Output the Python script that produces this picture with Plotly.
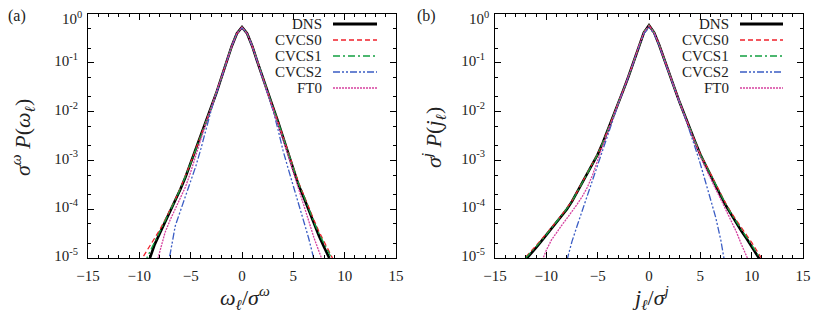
import plotly.graph_objects as go

# ---------------- data (log10 of sigma*P) ----------------
x_a = [-10.0, -9.5, -9.0, -8.5, -8.0, -7.5, -7.0, -6.5, -6.0, -5.5, -5.0, -4.5, -4.0, -3.5,
       -3.0, -2.5, -2.0, -1.5, -1.0, -0.5, 0.0, 0.5, 1.0, 1.5, 2.0, 2.5, 3.0, 3.5, 4.0, 4.5,
       5.0, 5.5, 6.0, 6.5, 7.0, 7.5, 8.0, 8.5, 9.0, 9.5]

a_dns = [None, None, -5.02, -4.72, -4.49, -4.27, -4.05, -3.82, -3.59, -3.34, -3.06, -2.78, -2.47, -2.20,
         -1.92, -1.62, -1.30, -0.98, -0.66, -0.40, -0.27, -0.40, -0.66, -0.98, -1.30, -1.60, -1.90, -2.20, -2.53, -2.87,
         -3.20, -3.50, -3.75, -4.03, -4.30, -4.55, -4.78, -5.00, None, None]
a_cvcs0 = [-5.10, -4.93, -4.75, -4.60, -4.42, -4.22, -4.02, -3.80, -3.57, -3.32, -3.05, -2.77, -2.47, -2.20,
           -1.92, -1.62, -1.30, -0.98, -0.66, -0.40, -0.27, -0.40, -0.66, -0.98, -1.30, -1.60, -1.90, -2.20, -2.52, -2.85,
           -3.17, -3.45, -3.70, -3.97, -4.22, -4.46, -4.68, -4.88, -5.08, None]
a_cvcs1 = [None, -5.10, -4.90, -4.67, -4.46, -4.25, -4.04, -3.81, -3.58, -3.33, -3.06, -2.78, -2.47, -2.20,
           -1.92, -1.62, -1.30, -0.98, -0.66, -0.40, -0.27, -0.40, -0.66, -0.98, -1.30, -1.60, -1.90, -2.20, -2.52, -2.86,
           -3.18, -3.47, -3.72, -4.00, -4.26, -4.50, -4.72, -4.93, -5.12, None]
a_cvcs2 = [None, None, None, None, None, -5.30, -4.92, -4.34, -4.04, -3.74, -3.44, -3.12, -2.76, -2.36,
           -1.97, -1.63, -1.30, -0.98, -0.66, -0.40, -0.28, -0.40, -0.66, -0.98, -1.30, -1.61, -1.96, -2.36, -2.80, -3.17,
           -3.51, -3.86, -4.24, -4.60, -5.02, None, None, None, None, None]
a_ft0 = [None, None, None, -5.25, -4.85, -4.48, -4.22, -4.00, -3.78, -3.54, -3.24, -2.90, -2.52, -2.22,
         -1.92, -1.62, -1.30, -0.98, -0.66, -0.40, -0.27, -0.40, -0.66, -0.98, -1.30, -1.60, -1.90, -2.22, -2.55, -2.90,
         -3.24, -3.56, -3.89, -4.24, -4.58, -4.89, -5.15, None, None, None]

x_b = [-12.5, -12.0, -11.5, -11.0, -10.5, -10.0, -9.5, -9.0, -8.5, -8.0, -7.5, -7.0, -6.5, -6.0, -5.5,
       -5.0, -4.5, -4.0, -3.5, -3.0, -2.5, -2.0, -1.5, -1.0, -0.5, 0.0, 0.5, 1.0, 1.5, 2.0, 2.5,
       3.0, 3.5, 4.0, 4.5, 5.0, 5.5, 6.0, 6.5, 7.0, 7.5, 8.0, 8.5, 9.0, 9.5, 10.0, 10.5, 11.0, 11.5]

b_dns = [None, -5.03, -4.92, -4.79, -4.66, -4.53, -4.40, -4.27, -4.14, -4.00, -3.84, -3.65, -3.46, -3.27, -3.08,
         -2.88, -2.64, -2.38, -2.10, -1.83, -1.56, -1.28, -0.98, -0.66, -0.38, -0.23, -0.38, -0.64, -0.95, -1.25, -1.53,
         -1.82, -2.10, -2.36, -2.62, -2.88, -3.10, -3.31, -3.52, -3.73, -3.93, -4.11, -4.28, -4.45, -4.60, -4.76, -4.93, -5.10, None]
b_cvcs0 = [-5.10, -4.97, -4.86, -4.75, -4.63, -4.51, -4.38, -4.25, -4.12, -3.98, -3.83, -3.64, -3.45, -3.26, -3.07,
           -2.87, -2.64, -2.38, -2.10, -1.83, -1.56, -1.28, -0.98, -0.66, -0.38, -0.23, -0.38, -0.64, -0.95, -1.25, -1.53,
           -1.82, -2.10, -2.36, -2.62, -2.87, -3.08, -3.29, -3.50, -3.70, -3.89, -4.07, -4.23, -4.38, -4.53, -4.68, -4.84, -5.02, None]
b_cvcs1 = [None, -5.00, -4.89, -4.77, -4.65, -4.52, -4.39, -4.26, -4.13, -3.99, -3.84, -3.65, -3.46, -3.27, -3.08,
           -2.88, -2.64, -2.38, -2.10, -1.83, -1.56, -1.28, -0.98, -0.66, -0.38, -0.23, -0.38, -0.64, -0.95, -1.25, -1.53,
           -1.82, -2.10, -2.36, -2.62, -2.88, -3.09, -3.30, -3.51, -3.72, -3.91, -4.09, -4.26, -4.42, -4.57, -4.73, -4.90, -5.06, None]
b_cvcs2 = [None, None, None, None, None, None, None, None, None, -5.05, -4.66, -4.34, -4.03, -3.71, -3.40,
           -3.10, -2.78, -2.45, -2.14, -1.85, -1.57, -1.29, -0.99, -0.68, -0.40, -0.28, -0.40, -0.66, -0.96, -1.26, -1.54,
           -1.83, -2.11, -2.41, -2.74, -3.07, -3.42, -3.78, -4.17, -4.64, -5.25, None, None, None, None, None, None, None, None]
b_ft0 = [None, None, None, None, -5.10, -4.84, -4.63, -4.47, -4.33, -4.19, -4.05, -3.90, -3.74, -3.55, -3.30,
         -3.02, -2.70, -2.40, -2.10, -1.83, -1.56, -1.28, -0.98, -0.66, -0.38, -0.24, -0.38, -0.64, -0.95, -1.25, -1.53,
         -1.82, -2.10, -2.37, -2.64, -2.92, -3.15, -3.38, -3.59, -3.80, -4.01, -4.22, -4.46, -4.72, -4.98, -5.20, None, None, None]

series_names = ["DNS", "CVCS0", "CVCS1", "CVCS2", "FT0"]
y_ticks = [1e0, 1e-1, 1e-2, 1e-3, 1e-4, 1e-5]
# the top label (10^0) is drawn separately so that it stays inside the page
y_ticktext = ["", "10<sup>-1</sup>", "10<sup>-2</sup>", "10<sup>-3</sup>",
              "10<sup>-4</sup>", "10<sup>-5</sup>"]
y_top_label = "10<sup>0</sup>"
x_ticks = [-15, -10, -5, 0, 5, 10, 15]

# ---------------- styles ----------------
colors = {"DNS": "#000000", "CVCS0": "#f0202a", "CVCS1": "#12a040", "CVCS2": "#3a5cc4", "FT0": "#d6409f"}
dashes = {"DNS": "solid", "CVCS0": "5px,3px", "CVCS1": "7px,3px,2px,3px",
          "CVCS2": "7px,2px,2px,2px,2px,2px", "FT0": "2px,1px"}
widths = {"DNS": 2.6, "CVCS0": 1.3, "CVCS1": 1.3, "CVCS2": 1.3, "FT0": 1.3}
FONT = "Liberation Serif"

# page body has an 8px default margin: lay out in window pixels, shifted by OFF
OFF = 8
WIN_W, WIN_H = 831, 319
W, H = WIN_W - OFF, WIN_H - OFF
PL, PR, PT, PB = 88, 803, 14, 258      # plot area in window pixels
L, R, T, B = PL - OFF, WIN_W - PR, PT - OFF, WIN_H - PB
PW = PR - PL
PH = PB - PT


def px(x):
    return (x - PL) / PW


def py(y):
    return (PB - y) / PH


def lin(v):
    return [None if e is None else 10 ** e for e in v]


fig = go.Figure()
panels = [("x", "y", x_a, [a_dns, a_cvcs0, a_cvcs1, a_cvcs2, a_ft0]),
          ("x2", "y2", x_b, [b_dns, b_cvcs0, b_cvcs1, b_cvcs2, b_ft0])]
for xa, ya, xs, sets in panels:
    for name, vals in zip(series_names, sets):
        fig.add_trace(go.Scatter(x=xs, y=lin(vals), mode="lines", name=name, xaxis=xa, yaxis=ya,
                                 showlegend=False, connectgaps=False,
                                 line=dict(color=colors[name], width=widths[name], dash=dashes[name])))

axis_common = dict(showline=True, linecolor="black", linewidth=1, mirror="allticks",
                   ticks="inside", tickcolor="black", zeroline=False, showgrid=False,
                   automargin=False, ticklabeloverflow="allow",
                   tickfont=dict(family=FONT, size=15, color="#222"))
xminor = dict(dtick=1, ticks="inside", ticklen=3, tickcolor="black")
yminor = dict(dtick="D2", ticks="inside", ticklen=3, tickcolor="black")

fig.update_layout(
    template="none",
    width=W, height=H, margin=dict(l=L, r=R, t=T, b=B, pad=0),
    paper_bgcolor="white", plot_bgcolor="white", showlegend=False,
    font=dict(family=FONT, color="#222"),
    xaxis=dict(domain=[0, px(396)], range=[-15, 15], tickvals=x_ticks, ticklen=6, minor=xminor,
               ticklabelstandoff=4, anchor="y", **axis_common),
    xaxis2=dict(domain=[px(495), 1], range=[-15, 15], tickvals=x_ticks, ticklen=6, minor=xminor,
                ticklabelstandoff=4, anchor="y2", **axis_common),
    yaxis=dict(domain=[0, 1], type="log", range=[-5, 0], tickvals=y_ticks, ticktext=y_ticktext,
               ticklen=6, minor=yminor, ticklabelstandoff=6, ticklabelshift=-2, anchor="x", **axis_common),
    yaxis2=dict(domain=[0, 1], type="log", range=[-5, 0], tickvals=y_ticks, ticktext=y_ticktext,
                ticklen=6, minor=yminor, ticklabelstandoff=6, ticklabelshift=-2, anchor="x2", **axis_common),
)


def note(x, y, text, size, **kw):
    d = dict(x=px(x), y=py(y), text=text, showarrow=False, xref="paper", yref="paper",
             xanchor="center", yanchor="middle", font=dict(family=FONT, size=size, color="#222"))
    d.update(kw)
    return d


ann = [
    note(17, 16, "(a)", 16),
    note(426, 16, "(b)", 16),
    note(22, 138, "<i>σ</i><sup><i>ω</i></sup> <i>P</i>(<i>ω</i><sub><i>ℓ</i></sub>)", 22, textangle=-90),
    note(433, 138, "<i>σ</i><sup><i>j</i></sup> <i>P</i>(<i>j</i><sub><i>ℓ</i></sub>)", 22, textangle=-90),
    note(245, 297, "<i>ω</i><sub><i>ℓ</i></sub>/<i>σ</i><sup><i>ω</i></sup>", 22),
    note(650, 297, "<i>j</i><sub><i>ℓ</i></sub>/<i>σ</i><sup><i>j</i></sup>", 22),
    note(PL - 5, 8, y_top_label, 15, xanchor="right", yanchor="top", borderpad=0),
    note(495 - 5, 8, y_top_label, 15, xanchor="right", yanchor="top", borderpad=0),
]
shapes = []
# gnuplot-style legends (text right-aligned, sample to the right)
for text_right, s0, s1 in [(324, 333, 377), (731, 740, 783)]:
    for i, name in enumerate(series_names):
        yy = 24 + 16 * i
        ann.append(note(text_right, yy, name, 15, xanchor="right"))
        shapes.append(dict(type="line", xref="paper", yref="paper", x0=px(s0), x1=px(s1),
                           y0=py(yy), y1=py(yy),
                           line=dict(color=colors[name], width=widths[name] + (0.6 if name == "DNS" else 0),
                                     dash=dashes[name])))

fig.update_layout(annotations=ann, shapes=shapes)
fig.write_html("out.html")
